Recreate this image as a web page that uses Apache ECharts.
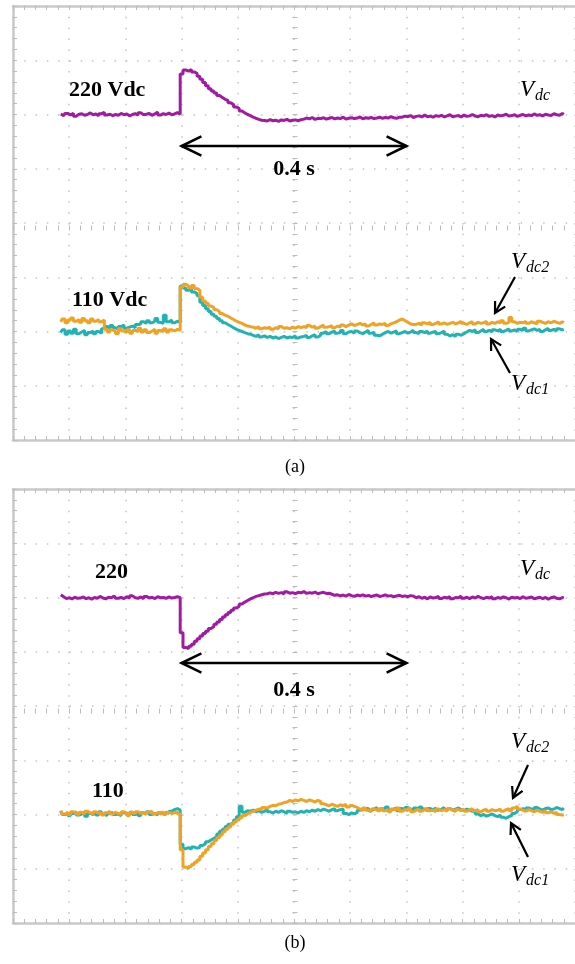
<!DOCTYPE html>
<html>
<head>
<meta charset="utf-8">
<script src="https://cdn.jsdelivr.net/npm/echarts@6/dist/echarts.min.js"></script>
<style>
  html, body { margin: 0; padding: 0; background: #fff; }
  #chart { width: 575px; height: 964px; }
</style>
</head>
<body>
<div id="chart"></div>
<script>
// Scope capture: one sample every 5 ms, first sample at 85 ms, time base 0.1 s/div
const sampleStart = 0.085;
const samplePeriod = 0.005;

// (a) load step: DC-link voltage Vdc [V]
const vdcA = [
  220.2, 219.6, 220.4, 219.8, 220.5, 219.4, 220.1, 220.3, 219.7, 220.0,
  220.6, 219.9, 220.2, 219.5, 220.3, 220.8, 219.8, 220.1, 219.6, 220.0,
  219.7, 220.4, 219.9, 220.2, 219.5, 220.0, 220.3, 219.8, 220.6, 219.9,
  220.1, 220.4, 219.7, 220.2, 220.9, 219.8, 220.3, 220.0, 220.5, 219.9,
  220.2, 220.7, 220.1,
  234.9, 236.4, 236.0, 236.6, 235.7, 235.2, 234.1,
  233.0, 231.8, 230.6, 229.5, 228.7, 227.9, 227.0, 226.3, 225.6,
  225.2, 224.3, 223.7, 222.8, 222.2,
  221.3, 220.6, 220.0, 219.6, 219.0,
  218.6, 218.2, 217.9, 217.8,
  217.6, 218.1, 217.7, 217.9, 217.5, 218.0, 217.8, 218.2, 217.6, 217.9, 218.0, 217.7, 218.1,
  218.3, 218.7, 218.4, 218.9, 218.2, 218.6, 218.5, 218.8, 218.3, 218.6,
  218.9, 218.4, 218.7, 218.5, 219.0, 218.3, 218.6, 218.8, 218.5, 218.7,
  219.1, 218.4, 218.8, 218.6, 218.9, 218.5, 218.7, 219.0, 218.6, 218.9,
  218.7, 219.2, 218.8, 218.6, 219.0,
  219.0, 219.4, 219.2, 219.6, 218.9, 219.3, 219.5, 219.1, 219.8, 219.2,
  219.4, 219.0, 219.6, 219.3, 219.7, 219.1, 219.5, 219.9, 219.2, 219.4,
  219.6, 219.1, 219.8, 219.3, 219.5, 220.0, 219.4, 219.2, 219.7, 219.5,
  219.9, 219.3, 219.6, 219.1, 219.8, 219.5, 219.7, 220.1, 219.4, 219.6,
  219.9, 219.3, 219.7, 220.0, 219.5, 219.8, 219.6, 220.2, 219.7, 219.9,
  219.5, 220.1, 219.8, 219.6, 220.3, 219.9, 219.7, 220.4, 220.0
];

// (a) capacitor voltage Vdc1 [V]
const vdc1A = [
  109.8, 110.3, 109.5, 110.1, 109.7, 110.4, 109.6, 109.9, 110.2, 109.4, 109.8, 110.1, 109.6, 110.0, 109.7,
  110.5, 110.9, 110.6, 111.1, 110.7, 110.4, 110.9, 111.2, 110.6, 110.8, 111.0, 110.7, 111.3,
  111.4, 111.8, 111.5, 112.0, 111.6, 111.9, 112.4, 111.7, 111.5, 113.0, 111.8, 112.1, 111.6, 111.9, 111.7,
  118.4, 118.0, 117.6, 117.9, 117.3, 117.0, 116.6,
  115.4, 114.8, 114.2, 113.7, 113.2, 112.8,
  112.4, 112.0, 111.6, 111.3, 111.0,
  110.7, 110.4, 110.2, 110.0, 109.8, 109.6, 109.5,
  109.3, 109.1, 109.4, 109.0, 109.2, 108.9, 109.1, 108.8, 109.0, 108.7, 108.9, 109.1, 108.8, 109.0, 108.9, 109.2, 108.8, 109.0,
  109.1, 109.3, 108.9, 109.2, 109.4, 109.0, 109.3,
  109.7, 110.0, 109.6, 109.9, 110.1, 109.7, 109.8, 110.2, 109.6, 109.9,
  110.0, 109.7, 110.1, 109.8, 109.6, 109.9, 110.2, 109.7, 109.8, 109.3,
  109.2, 109.5, 109.8, 110.0, 109.7, 109.9, 110.1, 109.6, 109.8, 110.0,
  109.7, 109.9, 110.2, 109.8, 109.6, 110.0, 109.8, 110.1, 109.7, 109.9,
  110.0, 109.6, 109.8, 110.1,
  109.5, 109.2, 109.4, 109.1, 109.5, 109.3, 109.6,
  109.9, 110.2, 110.0, 110.3, 109.8, 110.1, 110.4, 110.0, 110.2, 109.9,
  110.3, 110.1, 110.4, 110.0, 110.2, 110.5, 110.1, 110.3, 110.0, 110.4,
  110.2, 110.6, 110.1, 110.3, 110.5, 110.2, 110.4, 110.0, 110.3, 110.6,
  110.2, 110.4, 110.1, 110.5, 110.3, 110.4
];

// (a) capacitor voltage Vdc2 [V]
const vdc2A = [
  111.8, 112.3, 111.6, 112.1, 112.5, 111.9, 112.2, 111.7, 112.4, 112.0, 111.6, 112.3, 111.9, 112.2, 111.8, 112.1,
  110.4, 109.9, 110.3, 110.0, 109.6, 110.5, 110.1, 109.8, 110.3, 109.7, 110.2, 110.0, 110.6, 109.9,
  110.3, 109.8, 110.1, 110.4, 109.7, 110.2, 110.0, 110.5, 109.9, 110.3, 110.1, 110.4, 110.2,
  118.2, 118.7, 118.4, 118.0, 118.5, 117.9, 117.6,
  116.3, 115.6, 115.2, 114.7, 114.4, 114.0,
  113.7, 113.3, 113.0, 112.8, 112.5,
  112.2, 111.9, 111.7, 111.5, 111.2, 111.0, 110.9,
  110.8, 110.6, 110.9, 110.5, 110.7, 110.6, 110.8, 110.4, 110.7, 110.5, 110.9, 110.6, 110.7, 110.5, 110.8, 110.6, 110.9, 110.7,
  110.9, 110.7, 111.1, 110.8, 111.0, 110.6, 110.9, 111.2, 110.8, 110.9, 111.1, 110.7, 111.0, 110.8, 111.2, 110.9,
  111.2, 111.4, 111.1, 111.3, 111.5, 111.2, 111.4, 111.0, 111.3, 111.6, 111.2, 111.4,
  111.3, 111.5, 111.1, 111.4, 111.6, 111.8, 112.1, 112.3, 112.0, 111.7, 111.4, 111.3,
  111.3, 111.5, 111.2, 111.6, 111.4, 111.7, 111.3, 111.5, 111.8, 111.4,
  111.6, 111.3, 111.5, 111.7, 111.4, 111.6, 111.9, 111.5, 111.3, 111.6,
  111.8, 111.4, 111.7, 111.5, 111.6, 111.9, 111.4, 111.7, 111.5, 111.8,
  111.6, 112.0, 111.5, 111.7, 112.6, 111.8, 111.5, 111.7, 111.6, 111.9,
  111.5, 111.8, 111.6, 111.4, 111.9, 111.7, 111.5, 111.8, 111.6, 111.9,
  111.7, 111.5, 111.8, 111.6
];

// (b) load drop: DC-link voltage Vdc [V]
const vdcB = [
  221.0, 220.3, 219.6, 219.9, 219.5, 220.1, 219.7, 219.8, 220.2, 219.6,
  219.9, 219.4, 220.0, 219.7, 220.4, 219.8, 219.5, 220.1, 219.9, 220.5,
  219.7, 220.0, 219.6, 220.3, 219.8, 220.6, 219.9, 219.7, 220.2, 219.5,
  220.4, 219.8, 220.1, 219.6, 220.3, 219.9, 220.0, 219.7, 220.2, 219.8,
  220.0, 220.3, 219.9,
  207.0, 201.6, 201.1, 202.0, 202.8, 203.9, 204.8,
  205.8, 206.7, 207.6, 208.6, 209.3, 210.1,
  211.0, 211.9, 212.8, 213.6, 214.5, 215.3,
  216.1, 216.8, 217.6, 218.3, 218.9, 219.5,
  219.9, 220.4, 220.7, 221.0, 221.3, 221.4,
  221.7, 221.4, 221.9, 221.5, 221.8, 221.3, 222.1, 221.6, 221.8, 221.4,
  221.9, 221.7, 222.2, 221.5, 221.8, 221.6, 222.0, 221.4, 221.7, 221.9,
  221.5, 221.6,
  221.2, 220.8, 221.0, 220.6, 220.9, 220.5, 221.1, 220.7, 220.4, 220.9,
  220.6, 221.0, 220.5, 220.8, 220.3, 220.7, 220.9, 220.4, 220.6, 221.0,
  220.5, 220.7, 220.2, 220.6, 220.8, 220.4, 220.6, 220.3, 220.7, 220.5,
  219.9, 220.3, 219.7, 220.1, 219.5, 220.2, 219.8, 220.0, 220.4, 219.6,
  220.1, 219.8, 220.3, 219.5, 220.0, 219.9, 220.5, 219.7, 220.1, 219.6,
  220.2, 219.8, 220.4, 219.9, 219.6, 220.1, 219.8, 220.3, 219.5, 220.0,
  219.7, 220.2, 219.9, 219.4, 220.1, 219.8, 220.0, 219.6, 220.3, 219.7,
  219.9, 220.2, 219.5, 219.8, 220.1, 219.6, 220.0, 219.4, 219.9, 220.2,
  219.7, 219.5, 220.0, 219.8
];

// (b) capacitor voltage Vdc1 [V]
const vdc1B = [
  110.7, 110.0, 110.3, 109.8, 110.2, 110.5, 109.9, 110.1, 110.4, 109.7,
  110.2, 110.0, 110.3, 109.9, 110.5, 110.1, 109.8, 110.2, 110.4, 110.0,
  110.1, 109.8, 110.3, 110.2, 109.9, 110.4, 110.0, 110.2, 109.8, 110.3,
  110.1, 110.5, 110.0, 110.2, 109.9, 110.3, 110.1, 110.4, 110.2, 110.6,
  110.9, 111.1, 110.8,
  104.5, 103.7, 103.9, 103.6, 104.0, 103.8, 103.9,
  104.3, 104.6, 105.0, 105.3, 105.6, 105.9,
  106.4, 106.9, 107.3, 107.8, 108.2, 108.5,
  109.0, 109.6, 111.5, 110.4, 110.7, 110.6,
  110.8, 110.5, 110.7, 110.4, 110.6, 110.9, 110.5, 110.3, 110.6, 110.4,
  110.7, 110.5, 110.2, 110.6, 110.4, 110.5, 110.3, 110.6, 110.4, 110.7,
  110.5, 110.8, 110.6, 110.9, 110.7, 111.0, 110.8, 110.6, 110.9, 111.1,
  110.7, 110.9, 111.0,
  110.2, 110.0, 110.3, 110.1, 110.4,
  110.8, 111.1, 110.9, 111.2, 110.7, 111.0, 111.3, 110.8, 111.1, 110.9,
  111.4, 110.8, 111.0, 111.2, 110.7, 111.1, 110.9, 111.3, 111.0, 110.8,
  111.2, 110.9, 111.4, 111.0, 110.7, 111.1, 110.9, 111.2, 110.8, 111.0,
  111.3, 110.9, 111.1, 110.8, 111.0, 111.2, 110.9, 110.7, 111.0, 110.8,
  110.6, 110.7,
  110.1, 109.8, 110.0, 109.7, 109.9, 110.1, 109.8, 109.6, 109.9, 109.5, 109.3, 109.6, 109.8, 110.2, 110.5,
  110.9, 111.1, 110.8, 111.2, 111.0, 110.9, 111.3, 111.0, 110.8, 111.1, 111.2, 110.9, 111.0, 111.3, 111.1, 110.9, 111.2
];

// (b) capacitor voltage Vdc2 [V]
const vdc2B = [
  110.6, 110.1, 110.4, 110.0, 110.5, 110.2, 109.9, 110.4, 110.1, 110.6,
  110.3, 110.0, 110.5, 110.2, 110.4, 109.9, 110.3, 110.6, 110.1, 110.4,
  110.2, 110.0, 110.5, 110.3, 109.8, 110.4, 110.1, 110.5, 110.2, 110.3,
  110.0, 110.4, 110.6, 110.1, 110.3, 110.2, 110.5, 110.0, 110.4, 110.2,
  110.3, 110.5, 110.1,
  103.5, 100.3, 100.0, 100.4, 100.8, 101.2, 101.6,
  102.3, 102.9, 103.5, 104.1, 104.6, 105.2,
  105.7, 106.2, 106.8, 107.3, 107.7, 108.2,
  108.6, 109.0, 109.4, 109.8, 110.1, 110.4,
  110.6, 110.8, 111.0, 110.9, 111.3, 111.2, 111.5, 111.7, 111.6, 111.9, 112.0, 112.2,
  112.3, 112.6, 112.4, 112.7, 112.5, 112.8, 112.6, 112.4, 112.7, 112.5, 112.3, 112.6, 112.4,
  112.0, 111.8, 111.6, 111.9, 111.7, 111.5, 111.8, 111.6, 111.9, 111.4, 111.7, 111.5, 111.3,
  111.0, 110.7, 111.2, 110.8, 110.5, 111.0, 110.9, 110.6, 111.1, 110.7,
  110.9, 110.5, 111.0, 110.8, 111.2, 110.6, 110.9, 110.7, 111.1, 110.5,
  110.8, 111.0, 110.6, 110.9, 111.2, 110.7, 110.8, 110.5, 111.0, 110.7,
  110.9, 110.6, 111.1, 110.8, 110.5, 110.9, 110.7, 111.0, 110.6, 110.8,
  111.1, 110.7, 110.9, 110.5, 110.8, 111.0, 110.6, 110.9, 110.7, 110.8,
  111.0, 110.6, 110.9, 111.1, 110.7, 111.2, 111.5, 111.0, 110.8, 110.6,
  110.9, 110.7, 110.5, 110.8, 110.6, 110.4, 110.7, 110.3, 110.5, 110.2,
  110.4, 110.0, 109.9, 110.0
];

// marked settling interval [s]
const markedSpan = [0.3, 0.7];
const markedSpanText = '0.4 s';

// channel ranges over 8 divisions: Vdc at 20 V/div, Vdc1/Vdc2 at 10 V/div
const vdcRange = [100, 260];
const halfRange = [90, 170];

const PURPLE = '#A11BA0';
const TEAL = '#22B2B4';
const ORANGE = '#F0A224';
const BORDER = '#c9c9c9';
const TICK = '#bcbcbc';
const DOT = '#c4c4c4';

const GRID_LEFT = 13, GRID_W = 564, GRID_H = 434;
const gridTops = [6, 489];

function toPairs(values) {
  return values.map((v, i) => [+(sampleStart + i * samplePeriod).toFixed(4), v]);
}

const borderLine = { show: true, onZero: false, lineStyle: { color: BORDER, width: 2.5 } };
const noLine = { show: false, onZero: false };

function xAxesFor(g) {
  const tickCommon = { show: true, inside: true, length: 4, lineStyle: { color: TICK, width: 1 } };
  const minor = { show: true, splitNumber: 5, length: 4, lineStyle: { color: TICK, width: 1 } };
  return [
    { gridIndex: g, type: 'value', min: 0, max: 1, interval: 0.1, position: 'bottom',
      axisLine: borderLine, axisTick: tickCommon, minorTick: minor, axisLabel: { show: false },
      splitLine: { show: true, lineStyle: { color: DOT, width: 1.5, type: [1.5, 9.35] } } },
    { gridIndex: g, type: 'value', min: 0, max: 1, interval: 0.1, position: 'top',
      axisLine: borderLine, axisTick: tickCommon, minorTick: minor, axisLabel: { show: false },
      splitLine: { show: false } },
    { gridIndex: g, type: 'value', min: 0, max: 1, interval: 0.1, position: 'bottom', offset: -(GRID_H / 2 - 2.5),
      axisLine: noLine,
      axisTick: { show: true, inside: false, length: 5, lineStyle: { color: TICK, width: 1 } },
      minorTick: { show: true, splitNumber: 5, length: 5, lineStyle: { color: TICK, width: 1 } },
      axisLabel: { show: false }, splitLine: { show: false } }
  ];
}

function yAxesFor(g) {
  return [
    { gridIndex: g, type: 'value', min: 0, max: 8, interval: 1, position: 'left',
      axisLine: borderLine,
      axisTick: { show: true, inside: true, length: 4, lineStyle: { color: TICK, width: 1 } },
      minorTick: { show: true, splitNumber: 5, length: 4, lineStyle: { color: TICK, width: 1 } },
      axisLabel: { show: false },
      splitLine: { show: true, lineStyle: { color: DOT, width: 1.5, type: [1.5, 9.78] } } },
    { gridIndex: g, type: 'value', min: 0, max: 8, interval: 1, position: 'left', offset: -(GRID_W / 2 + 2.5),
      axisLine: noLine,
      axisTick: { show: true, inside: false, length: 5, lineStyle: { color: TICK, width: 1 } },
      minorTick: { show: true, splitNumber: 5, length: 5, lineStyle: { color: TICK, width: 1 } },
      axisLabel: { show: false }, splitLine: { show: false } },
    { gridIndex: g, type: 'value', min: vdcRange[0], max: vdcRange[1], show: false },
    { gridIndex: g, type: 'value', min: halfRange[0], max: halfRange[1], show: false }
  ];
}

function trace(name, values, g, channel, color, z) {
  return {
    name, type: 'line', xAxisIndex: g * 3, yAxisIndex: g * 4 + channel,
    data: toPairs(values), step: 'middle', symbol: 'none', showSymbol: false,
    lineStyle: { color, width: 3 }, z, silent: true, animation: false
  };
}

const chart = echarts.init(document.getElementById('chart'), null, { renderer: 'canvas' });

chart.setOption({
  backgroundColor: '#ffffff',
  animation: false,
  grid: gridTops.map(top => ({
    left: GRID_LEFT, top, width: GRID_W, height: GRID_H, show: false, containLabel: false
  })),
  xAxis: [...xAxesFor(0), ...xAxesFor(1)],
  yAxis: [...yAxesFor(0), ...yAxesFor(1)],
  series: [
    trace('Vdc', vdcA, 0, 2, PURPLE, 3),
    trace('Vdc1', vdc1A, 0, 3, TEAL, 4),
    trace('Vdc2', vdc2A, 0, 3, ORANGE, 5),
    trace('Vdc', vdcB, 1, 2, PURPLE, 3),
    trace('Vdc1', vdc1B, 1, 3, TEAL, 4),
    trace('Vdc2', vdc2B, 1, 3, ORANGE, 5)
  ]
});

// ---- annotations ----
function chevron(tip, from, len, halfAngle) {
  const dx = from[0] - tip[0], dy = from[1] - tip[1];
  const d = Math.hypot(dx, dy);
  const ux = dx / d, uy = dy / d;
  const rot = a => [tip[0] + len * (ux * Math.cos(a) - uy * Math.sin(a)),
                    tip[1] + len * (ux * Math.sin(a) + uy * Math.cos(a))];
  return [rot(halfAngle), tip, rot(-halfAngle)];
}

function pointer(from, tip, width) {
  return [
    { type: 'polyline', shape: { points: [from, tip] }, style: { stroke: '#000', lineWidth: width, fill: null }, z: 20 },
    { type: 'polyline', shape: { points: chevron(tip, from, 12, 0.5) }, style: { stroke: '#000', lineWidth: width, fill: null }, z: 20 }
  ];
}

function spanArrow(g, yPix) {
  const x0 = chart.convertToPixel({ xAxisIndex: g * 3 }, markedSpan[0]);
  const x1 = chart.convertToPixel({ xAxisIndex: g * 3 }, markedSpan[1]);
  const a = [x0, yPix], b = [x1, yPix];
  return [
    { type: 'polyline', shape: { points: [a, b] }, style: { stroke: '#000', lineWidth: 2.6, fill: null }, z: 20 },
    { type: 'polyline', shape: { points: chevron(a, b, 22, 0.45) }, style: { stroke: '#000', lineWidth: 2.6, fill: null }, z: 20 },
    { type: 'polyline', shape: { points: chevron(b, a, 22, 0.45) }, style: { stroke: '#000', lineWidth: 2.6, fill: null }, z: 20 }
  ];
}

const BOLD = 'bold 22px "Liberation Serif", "Times New Roman", serif';

function boldText(text, x, y, align) {
  return { type: 'text', x, y, z: 21,
    style: { text, font: BOLD, fill: '#000', align: align || 'left', verticalAlign: 'middle' } };
}

function vLabel(sub, x, y) {
  return { type: 'text', x, y, z: 21,
    style: {
      text: '{v|V}{s|' + sub + '}', align: 'left', verticalAlign: 'middle',
      rich: {
        v: { fontFamily: '"Liberation Serif", serif', fontStyle: 'italic', fontSize: 23, fill: '#000' },
        s: { fontFamily: '"Liberation Serif", serif', fontStyle: 'italic', fontSize: 16, fill: '#000', padding: [11, 0, 0, 1] }
      }
    } };
}

function caption(text, x, y) {
  return { type: 'text', x, y, z: 21,
    style: { text, font: '18px "Liberation Serif", "Times New Roman", serif', fill: '#000', align: 'center', verticalAlign: 'middle' } };
}

const spanMid = (chart.convertToPixel({ xAxisIndex: 0 }, markedSpan[0]) + chart.convertToPixel({ xAxisIndex: 0 }, markedSpan[1])) / 2;

chart.setOption({
  graphic: [
    // panel (a)
    boldText('220 Vdc', 69, 90),
    boldText('110 Vdc', 72, 300),
    boldText(markedSpanText, spanMid, 169, 'center'),
    ...spanArrow(0, 146),
    vLabel('dc', 520, 90),
    vLabel('dc2', 511, 262),
    vLabel('dc1', 511, 384),
    ...pointer([515, 277], [495, 313], 2.2),
    ...pointer([510, 373], [491, 339], 2.2),
    caption('(a)', 295, 467),
    // panel (b)
    boldText('220', 95, 572),
    boldText('110', 92, 791),
    boldText(markedSpanText, spanMid, 690, 'center'),
    ...spanArrow(1, 663),
    vLabel('dc', 520, 569),
    vLabel('dc2', 511, 742),
    vLabel('dc1', 511, 875),
    ...pointer([528, 765], [513, 798], 2.2),
    ...pointer([528, 857], [511, 823], 2.2),
    caption('(b)', 295, 943)
  ]
});
</script>
</body>
</html>
